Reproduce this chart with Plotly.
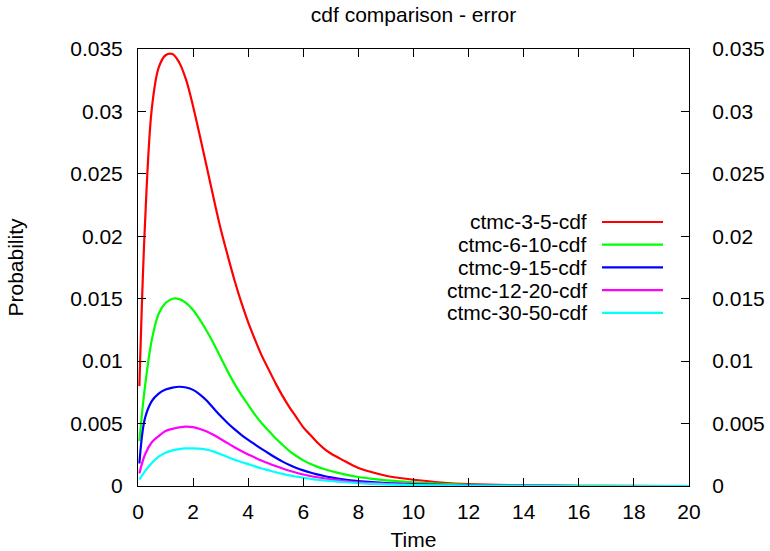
import plotly.graph_objects as go

# ---- data ----
time = [0.05, 0.25, 0.5, 0.75, 1.0, 1.25, 1.5, 1.75, 2.0, 2.25, 2.5, 2.75, 3.0, 3.25, 3.5,
        3.75, 4.0, 4.25, 4.5, 4.75, 5.0, 5.25, 5.5, 5.75, 6.0, 6.25, 6.5, 6.75, 7.0, 7.5,
        8.0, 8.5, 9.0, 9.5, 10.0, 11.0, 12.0, 14.0, 16.0, 18.0, 20.0]

ctmc_3_5 = [0.0080, 0.0208, 0.0302, 0.0335, 0.0345, 0.0346, 0.0339, 0.0325, 0.0304, 0.0280,
            0.0255, 0.0230, 0.0206, 0.0185, 0.0165, 0.0147, 0.0131, 0.0117, 0.0104, 0.0093,
            0.0082, 0.0072, 0.0063, 0.0055, 0.0047, 0.0041, 0.0035, 0.0030, 0.0026, 0.0020,
            0.00145, 0.0011, 0.00082, 0.00064, 0.0005, 0.00028, 0.00015, 0.00005, 0.00002,
            0.00001, 0.0]
ctmc_6_10 = [0.0036, 0.0079, 0.0117, 0.0138, 0.01465, 0.0150, 0.01497, 0.01465, 0.0141, 0.0133,
             0.0124, 0.0114, 0.0103, 0.0092, 0.0082, 0.0073, 0.0065, 0.0057, 0.0050, 0.0044,
             0.0038, 0.0033, 0.0028, 0.0024, 0.00205, 0.00178, 0.00155, 0.00136, 0.0012,
             0.00093, 0.00072, 0.00057, 0.00045, 0.00037, 0.0003, 0.00018, 0.0001, 0.00003,
             0.00001, 0.0, 0.0]
ctmc_9_15 = [0.0018, 0.0054, 0.0068, 0.0074, 0.00772, 0.00788, 0.00795, 0.00789, 0.0077, 0.00732,
             0.00682, 0.0062, 0.0056, 0.00505, 0.00455, 0.0041, 0.0037, 0.00332, 0.00295,
             0.0026, 0.00226, 0.00195, 0.00168, 0.00145, 0.00125, 0.00108, 0.00093, 0.0008,
             0.00069, 0.00052, 0.0004, 0.00031, 0.00024, 0.00019, 0.00015, 0.00009, 0.00005,
             0.00001, 0.0, 0.0, 0.0]
ctmc_12_20 = [0.0010, 0.0025, 0.0035, 0.0040, 0.0044, 0.00458, 0.0047, 0.00475, 0.00471,
              0.00457, 0.00436, 0.00408, 0.00376, 0.00343, 0.0031, 0.0028, 0.00252, 0.00227,
              0.00203, 0.00181, 0.0016, 0.0014, 0.00122, 0.00106, 0.00092, 0.0008, 0.0007,
              0.00061, 0.00053, 0.0004, 0.0003, 0.00023, 0.00018, 0.00014, 0.0001, 0.00006,
              0.00004, 0.00001, 0.0, 0.0, 0.0]
ctmc_30_50 = [0.00052, 0.00117, 0.00184, 0.00235, 0.00267, 0.00285, 0.00296, 0.00301, 0.00302,
              0.00299, 0.0029, 0.00275, 0.00255, 0.00232, 0.0021, 0.00192, 0.00175, 0.00157,
              0.0014, 0.00125, 0.0011, 0.00097, 0.00085, 0.00075, 0.00066, 0.00058, 0.0005,
              0.00045, 0.0004, 0.0003, 0.00022, 0.00017, 0.00013, 0.0001, 0.00008, 0.00005,
              0.00003, 0.00001, 0.0, 0.0, 0.0]

series_names = ["ctmc-3-5-cdf", "ctmc-6-10-cdf", "ctmc-9-15-cdf", "ctmc-12-20-cdf", "ctmc-30-50-cdf"]
series_values = [ctmc_3_5, ctmc_6_10, ctmc_9_15, ctmc_12_20, ctmc_30_50]
series_colors = ["#ff0000", "#00ff00", "#0000ff", "#ff00ff", "#00ffff"]

x_tick_vals = [0, 2, 4, 6, 8, 10, 12, 14, 16, 18, 20]
y_tick_vals = [0, 0.005, 0.01, 0.015, 0.02, 0.025, 0.03, 0.035]
y_tick_text = ["0", "0.005", "0.01", "0.015", "0.02", "0.025", "0.03", "0.035"]

FONT = "Liberation Sans, Arial, Helvetica, sans-serif"
FS = 21

fig = go.Figure()
for i, (name, vals, col) in enumerate(zip(series_names, series_values, series_colors)):
    fig.add_trace(go.Scatter(
        x=time, y=vals, mode="lines", name=name,
        line=dict(color=col, width=2.2, shape="spline", smoothing=1.0),
        yaxis="y2" if i == len(series_names) - 1 else "y",
        showlegend=False, hoverinfo="skip"))

# manual gnuplot-style legend (text right-aligned, sample line on the right)
plot_l, plot_r, plot_t, plot_b = 138, 81, 49, 65
pw = 770 - plot_l - plot_r
ph = 551 - plot_t - plot_b
def px_x(p):
    return (p - plot_l) / pw
def px_y(p):
    return (551 - plot_b - p) / ph

annotations = []
shapes = []
for i, (name, col) in enumerate(zip(series_names, series_colors)):
    yy = px_y(222 + i * 22.7)
    annotations.append(dict(xref="paper", yref="paper", x=px_x(589), y=yy, text=name,
                            showarrow=False, xanchor="right", yanchor="middle",
                            font=dict(family=FONT, size=FS, color="black")))
    shapes.append(dict(type="line", xref="paper", yref="paper",
                       x0=px_x(602), x1=px_x(663), y0=yy, y1=yy,
                       line=dict(color=col, width=2.2)))

axis_common = dict(showgrid=False, zeroline=False, showline=True, linecolor="black",
                   linewidth=1, ticks="inside", ticklen=8, tickcolor="black",
                   tickfont=dict(family=FONT, size=FS, color="black"))

fig.update_layout(
    width=770, height=551,
    margin=dict(l=plot_l, r=plot_r, t=plot_t, b=plot_b, autoexpand=False),
    paper_bgcolor="white", plot_bgcolor="white",
    title=dict(text="cdf comparison - error", x=0.5, xref="paper", y=1 - 15 / 551,
               yref="container", xanchor="center", yanchor="middle",
               font=dict(family=FONT, size=FS, color="black")),
    xaxis=dict(range=[0, 20], tickvals=x_tick_vals, mirror="ticks",
               title=dict(text="Time", standoff=10, font=dict(family=FONT, size=FS, color="black")),
               ticklabelstandoff=7, **axis_common),
    yaxis=dict(range=[0, 0.035], tickvals=y_tick_vals, ticktext=y_tick_text, mirror=True,
               title=dict(text="Probability", standoff=40, font=dict(family=FONT, size=FS, color="black")),
               ticklabelstandoff=10, **axis_common),
    yaxis2=dict(range=[0, 0.035], tickvals=y_tick_vals, ticktext=y_tick_text,
                overlaying="y", side="right", matches="y", ticklabelstandoff=18,
                **axis_common),
    annotations=annotations, shapes=shapes,
)

fig.write_html("out.html", config={"displayModeBar": False},
               post_script="document.body.style.margin='0';document.body.style.overflow='hidden';")
